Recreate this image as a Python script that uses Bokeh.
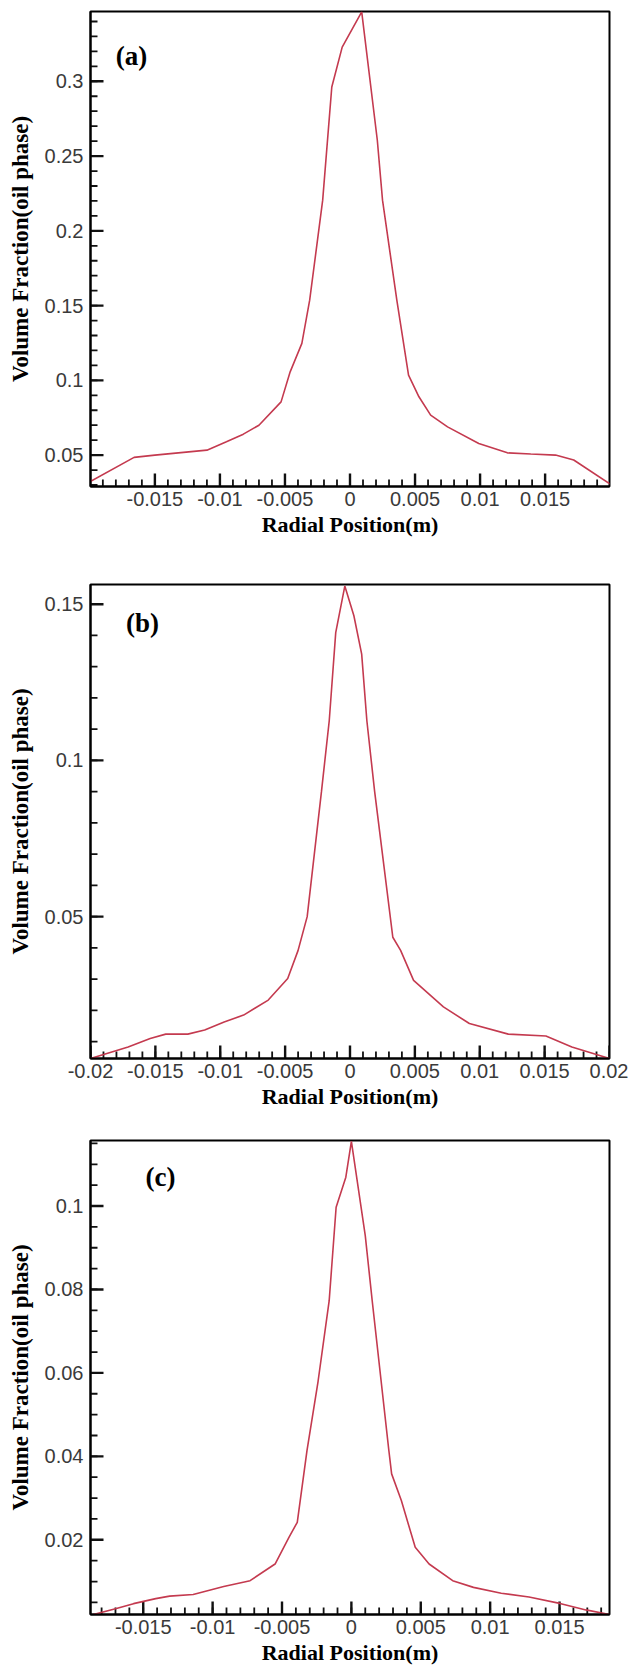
import numpy as np
from bokeh.plotting import figure
from bokeh.layouts import column
from bokeh.models import FixedTicker, Label, Range1d
from bokeh.embed import file_html
from bokeh.resources import INLINE

# ---------------- data ----------------
# Panel (a)
xa = [-0.0200, -0.0166, -0.0150, -0.0132, -0.0110, -0.0095, -0.0082, -0.0070, -0.0053,
      -0.0046, -0.0037, -0.0031, -0.0021, -0.0014, -0.0006, 0.0009, 0.0021, 0.0025,
      0.0036, 0.0045, 0.0053, 0.0062, 0.0075, 0.0099, 0.0121, 0.0139, 0.0158, 0.0172, 0.0200]
ya = [0.0322, 0.0485, 0.0500, 0.0515, 0.0533, 0.0589, 0.0640, 0.0700, 0.0856,
      0.1057, 0.1247, 0.1536, 0.2205, 0.2962, 0.3229, 0.3465, 0.2606, 0.2205,
      0.1536, 0.1035, 0.0890, 0.0767, 0.0689, 0.0578, 0.0515, 0.0507, 0.0500, 0.0467, 0.0306]

# Panel (b)
xb = [-0.0200, -0.0171, -0.0154, -0.0142, -0.0125, -0.0112, -0.0097, -0.0082, -0.0063,
      -0.0048, -0.0040, -0.0033, -0.0022, -0.0016, -0.0011, -0.0004, 0.0003, 0.0009,
      0.0013, 0.0019, 0.0033, 0.0039, 0.0049, 0.0072, 0.0092, 0.0122, 0.0151, 0.0171, 0.0200]
yb = [0.0046, 0.0083, 0.0110, 0.0124, 0.0124, 0.0137, 0.0163, 0.0185, 0.0233,
      0.0302, 0.0392, 0.0500, 0.0900, 0.1127, 0.1409, 0.1558, 0.1463, 0.1340,
      0.1127, 0.0900, 0.0434, 0.0392, 0.0296, 0.0211, 0.0158, 0.0124, 0.0118, 0.0083, 0.0046]

# Panel (c)
xc = [-0.0188, -0.0170, -0.0157, -0.0141, -0.0131, -0.0114, -0.0092, -0.0073, -0.0055,
      -0.0045, -0.0039, -0.0032, -0.0024, -0.0016, -0.0011, -0.0004, 0.0000, 0.0010,
      0.0015, 0.0027, 0.0029, 0.0036, 0.0046, 0.0056, 0.0073, 0.0088, 0.0108, 0.0128,
      0.0151, 0.0169, 0.0186]
yc = [0.0019, 0.0035, 0.0047, 0.0059, 0.0065, 0.0069, 0.0088, 0.0102, 0.0142,
      0.0206, 0.0242, 0.0414, 0.0580, 0.0773, 0.0997, 0.1069, 0.1155, 0.0929,
      0.0773, 0.0414, 0.0358, 0.0294, 0.0182, 0.0142, 0.0102, 0.0086, 0.0072, 0.0063,
      0.0047, 0.0032, 0.0021]

# tick values / labels
xticks_a = [-0.015, -0.01, -0.005, 0.0, 0.005, 0.01, 0.015]
xlabels_a = ["-0.015", "-0.01", "-0.005", "0", "0.005", "0.01", "0.015"]
xticks_b = [-0.02, -0.015, -0.01, -0.005, 0.0, 0.005, 0.01, 0.015, 0.02]
xlabels_b = ["-0.02", "-0.015", "-0.01", "-0.005", "0", "0.005", "0.01", "0.015", "0.02"]
yticks_a = [0.05, 0.1, 0.15, 0.2, 0.25, 0.3]
ylabels_a = ["0.05", "0.1", "0.15", "0.2", "0.25", "0.3"]
yticks_b = [0.05, 0.1, 0.15]
ylabels_b = ["0.05", "0.1", "0.15"]
yticks_c = [0.02, 0.04, 0.06, 0.08, 0.1]
ylabels_c = ["0.02", "0.04", "0.06", "0.08", "0.1"]

XLABEL = "Radial Position(m)"
YLABEL = "Volume Fraction(oil phase)"
LINE_COLOR = "#c43a4f"

MAJOR_LEN = 13
MINOR_LEN = 7


def make_panel(xs, ys, xr, yr, xt, xl, yt, yl, xminor, yminor, tag, tagxy,
               width, height, bl, bt, bb, br):
    fw = width - bl - br
    fh = height - bt - bb
    p = figure(width=width, height=height, x_range=Range1d(*xr), y_range=Range1d(*yr),
               output_backend="svg", toolbar_location=None,
               min_border_left=bl, min_border_top=bt, min_border_bottom=bb,
               min_border_right=br, background_fill_color="white",
               border_fill_color="white")
    p.grid.visible = False
    p.outline_line_color = "black"
    p.outline_line_width = 2

    # inward ticks drawn inside the frame (as rays from the frame edge)
    xmin_t = [v for v in xminor if xr[0] <= v <= xr[1]]
    ymin_t = [v for v in yminor if yr[0] <= v <= yr[1]]
    p.ray(x=xt, y=[yr[0]] * len(xt), length=MAJOR_LEN, length_units="screen",
          angle=np.pi / 2, line_color="#111111", line_width=2.4)
    p.ray(x=xmin_t, y=[yr[0]] * len(xmin_t), length=MINOR_LEN, length_units="screen",
          angle=np.pi / 2, line_color="#111111", line_width=1.8)
    p.ray(x=[xr[0]] * len(yt), y=yt, length=MAJOR_LEN, length_units="screen",
          angle=0.0, line_color="#111111", line_width=2.4)
    p.ray(x=[xr[0]] * len(ymin_t), y=ymin_t, length=MINOR_LEN, length_units="screen",
          angle=0.0, line_color="#111111", line_width=1.8)

    p.line(xs, ys, line_color=LINE_COLOR, line_width=1.6)

    p.xaxis.ticker = FixedTicker(ticks=xt, minor_ticks=[])
    p.yaxis.ticker = FixedTicker(ticks=yt, minor_ticks=[])
    p.xaxis.major_label_overrides = {t: s for t, s in zip(xt, xl)}
    p.yaxis.major_label_overrides = {t: s for t, s in zip(yt, yl)}

    for ax in (p.xaxis[0], p.yaxis[0]):
        ax.axis_line_color = "black"
        ax.axis_line_width = 2
        ax.major_tick_in = 0
        ax.major_tick_out = 0
        ax.minor_tick_in = 0
        ax.minor_tick_out = 0
        ax.major_label_text_font = "Liberation Sans"
        ax.major_label_text_font_size = "20px"
        ax.major_label_text_color = "#3a3a3a"
        ax.axis_label_text_font = "Liberation Serif"
        ax.axis_label_text_font_style = "bold"
        ax.axis_label_text_color = "black"

    p.xaxis.axis_label = XLABEL
    p.yaxis.axis_label = YLABEL
    p.xaxis.axis_label_text_font_size = "22px"
    p.yaxis.axis_label_text_font_size = "23px"
    p.xaxis.major_label_standoff = 5
    p.yaxis.major_label_standoff = 7
    p.xaxis.axis_label_standoff = 3
    p.yaxis.axis_label_standoff = 9

    p.add_layout(Label(x=tagxy[0], y=tagxy[1], text=tag, text_font="Liberation Serif",
                       text_font_style="bold", text_font_size="27px",
                       text_baseline="middle", text_align="left", text_color="black"))
    return p


xminor = [round(v, 4) for v in np.arange(-20, 21) * 0.001]
yminor_a = [round(v, 3) for v in np.arange(3, 35) * 0.01]
yminor_b = [round(v, 3) for v in np.arange(1, 16) * 0.01]
yminor_c = [round(v, 4) for v in np.arange(1, 24) * 0.005]

pa = make_panel(xa, ya, (-0.01995, 0.01995), (0.0290, 0.3467), xticks_a, xlabels_a,
                yticks_a, ylabels_a, xminor, yminor_a, "(a)", (-0.0180, 0.3167),
                628, 560, 88, 11, 74, 19)
pb = make_panel(xb, yb, (-0.0200, 0.0200), (0.0046, 0.1563), xticks_b, xlabels_b,
                yticks_b, ylabels_b, xminor, yminor_b, "(b)", (-0.01727, 0.1441),
                628, 560, 90, 24, 62, 16)
pc = make_panel(xc, yc, (-0.0188, 0.0186), (0.0021, 0.1157), xticks_a, xlabels_a,
                yticks_c, ylabels_c, xminor, yminor_c, "(c)", (-0.01483, 0.1069),
                628, 552, 89, 20, 58, 17)

layout = column(pa, pb, pc, spacing=0)
open("out.html", "w").write(file_html(layout, INLINE))
